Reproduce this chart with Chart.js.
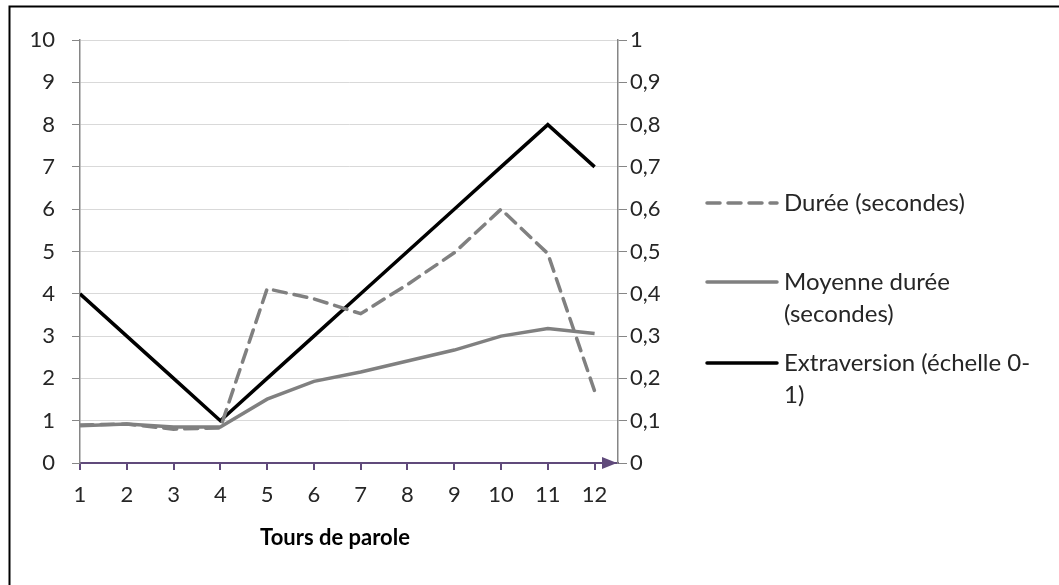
<!DOCTYPE html>
<html>
<head>
<meta charset="utf-8">
<script src="https://cdn.jsdelivr.net/npm/chart.js@4/dist/chart.umd.min.js"></script>
<style>
  html, body { margin: 0; padding: 0; background: #fff; }
  #wrap { width: 1059px; height: 585px; position: relative; }
</style>
</head>
<body>
<div id="wrap"><canvas id="c"></canvas></div>
<script>
// tours de parole
let tours = [1, 2, 3, 4, 5, 6, 7, 8, 9, 10, 11, 12]
let duree = [0.9, 0.92, 0.8, 0.83, 4.12, 3.88, 3.53, 4.22, 4.97, 6.0, 4.95, 1.7]
let moyenneDuree = [0.88, 0.92, 0.85, 0.85, 1.51, 1.93, 2.15, 2.41, 2.67, 3.0, 3.18, 3.06]
let extraversion = [0.4, 0.3, 0.2, 0.1, 0.2, 0.3, 0.4, 0.5, 0.6, 0.7, 0.8, 0.7]

let legendLines = [
  ['Durée (secondes)'],
  ['Moyenne durée', '(secondes)'],
  ['Extraversion (échelle 0-', '1)']
]
let axisTitle = 'Tours de parole'

const FONT = 'Lato, "Liberation Sans", sans-serif'
const GRAY = '#808080'
const PURPLE = '#604a7b'

Chart.defaults.font.family = FONT
Chart.defaults.font.size = 22
Chart.defaults.color = '#262626'

function toPoints(arr){
  return arr.map((v, i) => ({ x: tours[i], y: v }))
}

// legend + border + arrow, drawn by hand
const extras = {
  id: 'extras',
  afterDraw(chart){
    const ctx = chart.ctx
    const area = chart.chartArea
    ctx.save()
    // arrow at end of x axis
    const y0 = chart.scales.y.getPixelForValue(0)
    ctx.fillStyle = PURPLE
    ctx.beginPath()
    ctx.moveTo(area.right - 1, y0)
    ctx.lineTo(area.right - 16, y0 - 6)
    ctx.lineTo(area.right - 16, y0 + 6)
    ctx.closePath()
    ctx.fill()

    // legend
    const legY = [203, 282, 363]
    chart.data.datasets.forEach((ds, i) => {
      ctx.strokeStyle = ds.borderColor
      ctx.lineWidth = ds.borderWidth
      ctx.lineCap = 'round'
      ctx.setLineDash(ds.borderDash || [])
      ctx.beginPath()
      ctx.moveTo(707, legY[i])
      ctx.lineTo(777, legY[i])
      ctx.stroke()
      ctx.setLineDash([])
      ctx.fillStyle = '#262626'
      ctx.font = '24px ' + FONT
      ctx.textBaseline = 'middle'
      ctx.textAlign = 'left'
      legendLines[i].forEach((t, j) => ctx.fillText(t, 784, legY[i] + j * 32))
    })

    // axis title
    ctx.font = 'bold 22px ' + FONT
    ctx.textAlign = 'center'
    ctx.fillStyle = '#000'
    ctx.fillText(axisTitle, 335, 538)

    // outer frame
    ctx.strokeStyle = '#000'
    ctx.lineWidth = 2
    ctx.beginPath()
    ctx.moveTo(9.5, 600)
    ctx.lineTo(9.5, 6.5)
    ctx.lineTo(1070, 6.5)
    ctx.stroke()
    ctx.restore()
  }
}

new Chart(document.getElementById('c'), {
  type: 'line',
  data: {
    datasets: [
      {
        label: legendLines[0].join(' '),
        data: toPoints(duree),
        borderColor: GRAY,
        borderWidth: 3.5,
        borderDash: [13, 8],
        borderCapStyle: 'round',
        yAxisID: 'y'
      },
      {
        label: legendLines[1].join(' '),
        data: toPoints(moyenneDuree),
        borderColor: GRAY,
        borderWidth: 3.5,
        yAxisID: 'y'
      },
      {
        label: legendLines[2].join(' '),
        data: toPoints(extraversion),
        borderColor: '#000000',
        borderWidth: 3.5,
        yAxisID: 'y1'
      }
    ]
  },
  options: {
    responsive: true,
    maintainAspectRatio: false,
    animation: false,
    elements: { point: { radius: 0 }, line: { tension: 0 } },
    layout: { padding: { top: 40, left: 0, right: 0, bottom: 0 } },
    plugins: {
      legend: { display: false },
      tooltip: { enabled: false }
    },
    scales: {
      x: {
        type: 'linear',
        min: 1,
        max: 12.5,
        afterBuildTicks: s => { s.ticks = tours.map(v => ({ value: v })) },
        afterFit: s => { s.height = 122 },
        ticks: { padding: 12, callback: v => String(v) },
        grid: { drawOnChartArea: false, drawTicks: true, tickLength: 7, color: PURPLE, lineWidth: 2 },
        border: { display: true, color: PURPLE, width: 2 }
      },
      y: {
        position: 'left',
        min: 0,
        max: 10,
        afterFit: s => { s.width = 80 },
        ticks: { stepSize: 1, padding: 17 },
        grid: { color: '#d9d9d9', lineWidth: 1, tickLength: 8, tickColor: '#868686' },
        border: { color: '#868686', width: 1.5 }
      },
      y1: {
        position: 'right',
        min: 0,
        max: 1,
        afterFit: s => { s.width = 441 },
        ticks: {
          stepSize: 0.1,
          padding: 3,
          callback: v => String(Number(v.toFixed(1))).replace('.', ',')
        },
        grid: { drawOnChartArea: false, tickLength: 9, tickColor: '#868686' },
        border: { color: '#868686', width: 1.5 }
      }
    }
  },
  plugins: [extras]
})
</script>
</body>
</html>
